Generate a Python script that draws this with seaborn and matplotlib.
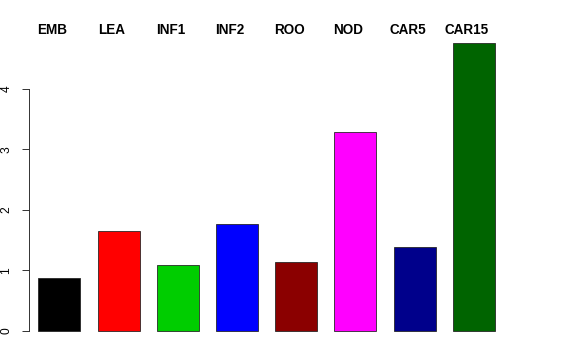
import matplotlib
matplotlib.use("Agg")
import matplotlib.pyplot as plt
import matplotlib.transforms as mtransforms
import seaborn as sns
import pandas as pd

categories = ["EMB", "LEA", "INF1", "INF2", "ROO", "NOD", "CAR5", "CAR15"]
values = [0.866, 1.64, 1.086, 1.76, 1.13, 3.29, 1.38, 4.76]
colors = ["#000000", "#FF0000", "#00CD00", "#0000FF", "#8B0000", "#FF00FF", "#00008B", "#006400"]
yticks = [0, 1, 2, 3, 4]

sns.set_style("white")
plt.rcParams["font.family"] = ["Liberation Sans", "DejaVu Sans"]
plt.rcParams["text.color"] = "black"
plt.rcParams["ytick.color"] = "black"

df = pd.DataFrame({"cat": categories, "val": values})

W, H = 576, 360
fig = plt.figure(figsize=(W / 72, H / 72), dpi=72)
left_px, right_px, top_px, bottom_px = 29, 503, 31, 343
ax = fig.add_axes([left_px / W, 1 - bottom_px / H, (right_px - left_px) / W, (bottom_px - top_px) / H])

sns.barplot(data=df, x="cat", y="val", hue="cat", palette=colors, order=categories,
            hue_order=categories, legend=False, width=0.71, saturation=1,
            edgecolor="#222222", linewidth=0.8, ax=ax)

px_per_unit = 60.5
y0_px = 330.7
ax.set_ylim(-(bottom_px - y0_px) / px_per_unit, (y0_px - top_px) / px_per_unit)
spacing = 59.2
c0 = 59.4
ax.set_xlim((left_px - c0) / spacing, (right_px - c0) / spacing)

for s in ["top", "right", "bottom"]:
    ax.spines[s].set_visible(False)
ax.spines["left"].set_bounds(0, 4)
ax.spines["left"].set_color("#222222")
ax.spines["left"].set_linewidth(0.9)

ax.set_yticks(yticks)
ax.set_yticklabels([str(t) for t in yticks])
ax.tick_params(axis="y", direction="out", length=7.5, width=0.9, color="#222222",
               pad=9, left=True, labelsize=12, labelcolor="black", labelrotation=90)
for lab in ax.get_yticklabels():
    lab.set_va("center")
ax.set_xticks([])
ax.set_xlabel("")
ax.set_ylabel("")
ax.grid(False)

trans = mtransforms.blended_transform_factory(ax.transData, fig.transFigure)
trans = trans + mtransforms.ScaledTranslation(-7 / 72, 0, fig.dpi_scale_trans)
for i, c in enumerate(categories):
    ax.text(i, 1 - 34.5 / H, c, transform=trans, ha="center", va="baseline",
            fontsize=13.5, fontweight="bold", color="black", clip_on=False)

fig.savefig("out.png", dpi=72)
